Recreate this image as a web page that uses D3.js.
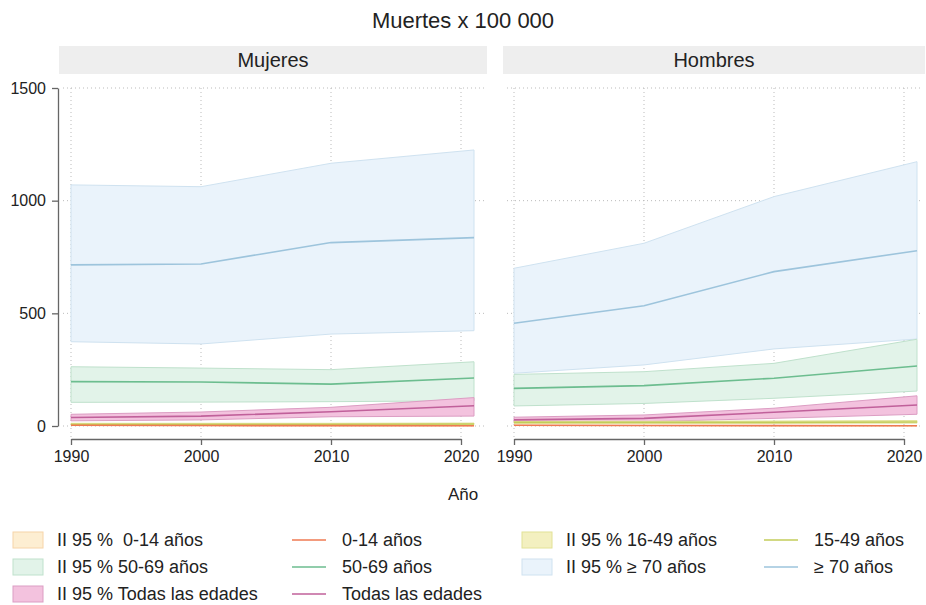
<!DOCTYPE html>
<html>
<head>
<meta charset="utf-8">
<script src="https://cdn.jsdelivr.net/npm/d3@7"></script>
<style>
  body { margin: 0; background: #fff; }
  svg text { font-family: "Liberation Sans", Arial, sans-serif; fill: #222; white-space: pre; }
</style>
</head>
<body>
<svg id="chart"></svg>
<script>
// years of the estimates
var years = [1990, 2000, 2010, 2021];
var xTicks = [1990, 2000, 2010, 2020];
var yTicks = [0, 500, 1000, 1500];
var panels = ["Mujeres", "Hombres"];

// Mujeres: rate, lower and upper 95% bound
var mujeres70 = [715, 719, 814, 836];
var mujeres70Lo = [374, 364, 408, 423];
var mujeres70Hi = [1070, 1062, 1166, 1225];
var mujeres50 = [197, 195, 186, 213];
var mujeres50Lo = [105, 106, 108, 112];
var mujeres50Hi = [263, 257, 250, 285];
var mujeresTodas = [38, 44, 63, 90];
var mujeresTodasLo = [23, 27, 41, 44];
var mujeresTodasHi = [52, 62, 83, 126];
var mujeres15 = [8, 8, 8, 9];
var mujeres15Lo = [5, 5, 5, 6];
var mujeres15Hi = [12, 12, 12, 13];
var mujeres0 = [3, 2, 1.5, 1];
var mujeres0Lo = [2, 1.5, 1, 0.5];
var mujeres0Hi = [4, 3, 2, 1.5];

// Hombres
var hombres70 = [456, 534, 685, 778];
var hombres70Lo = [234, 271, 342, 386];
var hombres70Hi = [700, 811, 1018, 1173];
var hombres50 = [167, 179, 212, 266];
var hombres50Lo = [89, 100, 123, 155];
var hombres50Hi = [229, 241, 278, 385];
var hombresTodas = [27, 34, 61, 93];
var hombresTodasLo = [15, 19, 34, 52];
var hombresTodasHi = [39, 49, 79, 134];
var hombres15 = [16, 16, 16, 18];
var hombres15Lo = [12, 12, 12, 13];
var hombres15Hi = [21, 21, 22, 24];
var hombres0 = [3, 2, 1.5, 1];
var hombres0Lo = [2, 1.5, 1, 0.5];
var hombres0Hi = [4, 3, 2, 1.5];

// legend labels, in row order
var bandLabels = ["II 95 %  0-14 años", "II 95 % 50-69 años", "II 95 % Todas las edades", "II 95 % 16-49 años", "II 95 % \u2265 70 años"];
var lineLabels = ["0-14 años", "50-69 años", "Todas las edades", "15-49 años", "\u2265 70 años"];

// drawing order: back to front
var groups = [
  { key: "70", fill: "#eaf3fb", edge: "#cfe2f0", line: "#9dc4dc" },
  { key: "50", fill: "#e2f3e9", edge: "#bfe1cc", line: "#6cbd8f" },
  { key: "Todas", fill: "#f3c2de", edge: "#dc9dc3", line: "#c0609a" },
  { key: "15", fill: "#f3f0c0", edge: "#e2e296", line: "#c3cc5a" },
  { key: "0", fill: "#fdeed2", edge: "#f6d4a8", line: "#ef7a52" }
];

var seriesBySex = {
  Mujeres: {
    "70": [mujeres70, mujeres70Lo, mujeres70Hi],
    "50": [mujeres50, mujeres50Lo, mujeres50Hi],
    "Todas": [mujeresTodas, mujeresTodasLo, mujeresTodasHi],
    "15": [mujeres15, mujeres15Lo, mujeres15Hi],
    "0": [mujeres0, mujeres0Lo, mujeres0Hi]
  },
  Hombres: {
    "70": [hombres70, hombres70Lo, hombres70Hi],
    "50": [hombres50, hombres50Lo, hombres50Hi],
    "Todas": [hombresTodas, hombresTodasLo, hombresTodasHi],
    "15": [hombres15, hombres15Lo, hombres15Hi],
    "0": [hombres0, hombres0Lo, hombres0Hi]
  }
};

var width = 926, height = 605;
var svg = d3.select("#chart").attr("width", width).attr("height", height);

svg.append("text")
    .attr("x", 463).attr("y", 28)
    .attr("text-anchor", "middle")
    .style("font-size", "22px")
    .text("Muertes x 100 000");

var y = d3.scaleLinear().domain([0, 1500]).range([426, 88]);

var panelBoxes = [
  { left: 59, right: 487, x0: 71 },
  { left: 503, right: 925, x0: 514 }
];

panels.forEach(function(name, i) {
  var box = panelBoxes[i];
  var x = d3.scaleLinear().domain([1990, 2020]).range([box.x0, box.x0 + 390]);
  var g = svg.append("g");

  // strip header
  g.append("rect")
      .attr("x", box.left).attr("y", 46)
      .attr("width", box.right - box.left).attr("height", 28)
      .attr("fill", "#eeeeee");
  g.append("text")
      .attr("x", (box.left + box.right) / 2).attr("y", 67)
      .attr("text-anchor", "middle")
      .style("font-size", "20px")
      .text(name);

  // dotted grid
  g.selectAll("line.hgrid").data(yTicks).enter().append("line")
      .attr("class", "hgrid")
      .attr("x1", box.left + 4).attr("x2", box.right - 2)
      .attr("y1", function(d) { return y(d); }).attr("y2", function(d) { return y(d); })
      .attr("stroke", "#bbbbbb").attr("stroke-width", 1).attr("stroke-dasharray", "1,3");
  g.selectAll("line.vgrid").data(xTicks).enter().append("line")
      .attr("class", "vgrid")
      .attr("x1", function(d) { return x(d); }).attr("x2", function(d) { return x(d); })
      .attr("y1", 88).attr("y2", 438)
      .attr("stroke", "#bbbbbb").attr("stroke-width", 1).attr("stroke-dasharray", "1,3");

  var series = seriesBySex[name];

  var area = d3.area()
      .x(function(d, k) { return x(years[k]); })
      .y0(function(d) { return y(d[0]); })
      .y1(function(d) { return y(d[1]); });
  var line = d3.line()
      .x(function(d, k) { return x(years[k]); })
      .y(function(d) { return y(d); });

  groups.forEach(function(grp) {
    var s = series[grp.key];
    var pts = s[1].map(function(lo, k) { return [lo, s[2][k]]; });
    g.append("path")
        .attr("d", area(pts))
        .attr("fill", grp.fill)
        .attr("stroke", grp.edge)
        .attr("stroke-width", 1);
  });

  groups.forEach(function(grp) {
    g.append("path")
        .attr("d", line(series[grp.key][0]))
        .attr("fill", "none")
        .attr("stroke", grp.line)
        .attr("stroke-width", 1.6);
  });

  // x axis, below the plot
  var xAxis = g.append("g")
      .attr("transform", "translate(0,439)")
      .call(d3.axisBottom(x).tickValues(xTicks).tickFormat(d3.format("d")).tickSize(6).tickSizeOuter(0));
  xAxis.select(".domain").attr("stroke", "#666").attr("stroke-width", 1.3);
  xAxis.selectAll(".tick line").attr("stroke", "#666").attr("stroke-width", 1.3);
  xAxis.selectAll("text").style("font-size", "16px").attr("fill", "#222").attr("dy", "0.85em");

  if (i === 0) {
    var yAxis = g.append("g")
        .attr("transform", "translate(58,0)")
        .call(d3.axisLeft(y).tickValues(yTicks).tickFormat(d3.format("d")).tickSize(6).tickSizeOuter(0).tickPadding(6));
    yAxis.select(".domain").attr("stroke", "#666").attr("stroke-width", 1.3);
    yAxis.selectAll(".tick line").attr("stroke", "#666").attr("stroke-width", 1.3);
    yAxis.selectAll("text").style("font-size", "16px").attr("fill", "#222");
  }
});

svg.append("text")
    .attr("x", 463).attr("y", 500)
    .attr("text-anchor", "middle")
    .style("font-size", "17px")
    .text("A\u00f1o");

// legend: 3 rows, 4 columns (band, line, band, line)
var legendCols = [13, 292, 522, 764];
var legendRows = [540, 567, 594];
var legend = svg.append("g");

groups.forEach(function(grp) {
  // 0-14, 50-69, Todas in the left pair; 15-49, >=70 in the right pair
  var order = { "0": [0, 0], "50": [0, 1], "Todas": [0, 2], "15": [1, 0], "70": [1, 1] }[grp.key];
  var pair = order[0], row = order[1];
  var labelIdx = { "0": 0, "50": 1, "Todas": 2, "15": 3, "70": 4 }[grp.key];
  var cy = legendRows[row];
  var bx = legendCols[pair * 2], lx = legendCols[pair * 2 + 1];

  legend.append("rect")
      .attr("x", bx).attr("y", cy - 8)
      .attr("width", 30).attr("height", 16)
      .attr("fill", grp.fill).attr("stroke", grp.edge);
  legend.append("text")
      .attr("x", bx + 44).attr("y", cy + 6)
      .style("font-size", "18px")
      .text(bandLabels[labelIdx]);

  legend.append("line")
      .attr("x1", lx).attr("x2", lx + 34)
      .attr("y1", cy).attr("y2", cy)
      .attr("stroke", grp.line).attr("stroke-width", 1.6);
  legend.append("text")
      .attr("x", lx + 50).attr("y", cy + 6)
      .style("font-size", "18px")
      .text(lineLabels[labelIdx]);
});
</script>
</body>
</html>
